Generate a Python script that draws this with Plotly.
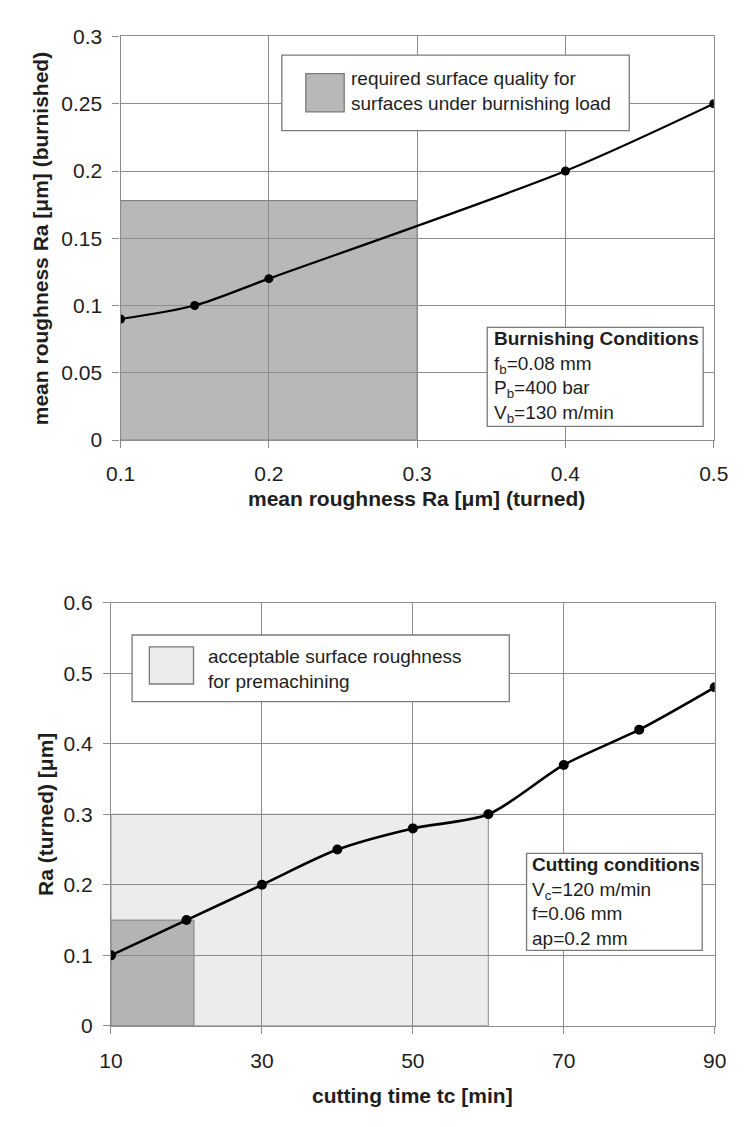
import plotly.graph_objects as go

# ---- data -------------------------------------------------------------
# upper chart: burnished roughness vs. turned roughness
turned_ra = [0.10, 0.15, 0.20, 0.40, 0.50]
burnished_ra = [0.09, 0.10, 0.12, 0.20, 0.25]
burn_xticks = [0.1, 0.2, 0.3, 0.4, 0.5]
burn_xticktext = ["0.1", "0.2", "0.3", "0.4", "0.5"]
burn_yticks = [0, 0.05, 0.1, 0.15, 0.2, 0.25, 0.3]
burn_yticktext = ["0", "0.05", "0.1", "0.15", "0.2", "0.25", "0.3"]
# required quality zone (turned Ra range, burnished Ra limit)
req_zone_x = [0.1, 0.3]
req_zone_y = [0, 0.178]

# lower chart: turned roughness vs. cutting time
cut_time = [10, 20, 30, 40, 50, 60, 70, 80, 90]
cut_ra = [0.10, 0.15, 0.20, 0.25, 0.28, 0.30, 0.37, 0.42, 0.48]
cut_xticks = [10, 30, 50, 70, 90]
cut_xticktext = ["10", "30", "50", "70", "90"]
cut_yticks = [0, 0.1, 0.2, 0.3, 0.4, 0.5, 0.6]
cut_yticktext = ["0", "0.1", "0.2", "0.3", "0.4", "0.5", "0.6"]
# acceptable premachining zone and the tighter zone inside it
accept_zone_x = [10, 60]
accept_zone_y = [0, 0.3]
tight_zone_x = [10, 21]
tight_zone_y = [0, 0.15]

# ---- page geometry (pixels) --------------------------------------------
W, H = 746, 1127


def px(x):
    return x / W


def py(y):
    return 1 - y / H


FONT = "Liberation Sans, Arial, sans-serif"
GRID = "#8c8c8c"
TXT = "#1e1e1e"
TICK_SIZE = 21
TITLE_SIZE = 21
NOTE_SIZE = 19

fig = go.Figure()

fig.add_trace(go.Scatter(
    x=turned_ra, y=burnished_ra, mode="lines+markers",
    line=dict(color="black", width=2.2, shape="spline", smoothing=0.8),
    marker=dict(color="black", size=9),
    xaxis="x", yaxis="y", showlegend=False, hoverinfo="skip",
))
fig.add_trace(go.Scatter(
    x=cut_time, y=cut_ra, mode="lines+markers",
    line=dict(color="black", width=2.6, shape="spline", smoothing=0.8),
    marker=dict(color="black", size=10),
    xaxis="x2", yaxis="y2", showlegend=False, hoverinfo="skip",
))

axis_common = dict(
    showgrid=True, gridcolor=GRID, gridwidth=1.3,
    showline=True, linecolor=GRID, linewidth=1.3, mirror=True,
    ticks="outside", ticklen=7, tickcolor=GRID, tickwidth=1.3,
    zeroline=False,
    tickfont=dict(family=FONT, size=TICK_SIZE, color=TXT),
)

fig.update_layout(
    width=W, height=H,
    margin=dict(l=0, r=0, t=0, b=0),
    paper_bgcolor="white", plot_bgcolor="white",
    font=dict(family=FONT, color=TXT),
    xaxis=dict(axis_common, domain=[px(110), px(728)], range=[0.1, 0.5],
               tickvals=burn_xticks, ticktext=burn_xticktext,
               anchor="y", ticklabelstandoff=8),
    yaxis=dict(axis_common, domain=[py(437), py(25)], range=[0, 0.3],
               tickvals=burn_yticks, ticktext=burn_yticktext,
               anchor="x", ticklabelstandoff=6),
    xaxis2=dict(axis_common, domain=[px(100), px(729)], range=[10, 90],
                tickvals=cut_xticks, ticktext=cut_xticktext,
                anchor="y2", ticklabelstandoff=9),
    yaxis2=dict(axis_common, domain=[py(1035), py(603)], range=[0, 0.6],
                tickvals=cut_yticks, ticktext=cut_yticktext,
                anchor="x2", ticklabelstandoff=6),
)

# shaded zones (below the grid, as in the original plots)
fig.add_shape(type="rect", xref="x", yref="y",
              x0=req_zone_x[0], x1=req_zone_x[1], y0=req_zone_y[0], y1=req_zone_y[1],
              fillcolor="#b8b8b8", line=dict(color="#777777", width=1), layer="below")
fig.add_shape(type="rect", xref="x2", yref="y2",
              x0=accept_zone_x[0], x1=accept_zone_x[1], y0=accept_zone_y[0], y1=accept_zone_y[1],
              fillcolor="#ececec", line=dict(color="#8a8a8a", width=1), layer="below")
fig.add_shape(type="rect", xref="x2", yref="y2",
              x0=tight_zone_x[0], x1=tight_zone_x[1], y0=tight_zone_y[0], y1=tight_zone_y[1],
              fillcolor="#b4b4b4", line=dict(color="#808080", width=1), layer="below")


def box(x0, y0, x1, y1):
    fig.add_shape(type="rect", xref="paper", yref="paper",
                  x0=px(x0), x1=px(x1), y0=py(y1), y1=py(y0),
                  fillcolor="white", line=dict(color="#7a7a7a", width=1.3),
                  layer="above")


def swatch(x0, y0, x1, y1, color):
    fig.add_shape(type="rect", xref="paper", yref="paper",
                  x0=px(x0), x1=px(x1), y0=py(y1), y1=py(y0),
                  fillcolor=color, line=dict(color="#7a7a7a", width=1.3),
                  layer="above")


def note(x, y, text, size=NOTE_SIZE, anchor="left", yanchor="middle"):
    fig.add_annotation(xref="paper", yref="paper", x=px(x), y=py(y),
                       text=text, showarrow=False, xanchor=anchor,
                       yanchor=yanchor, align="left",
                       font=dict(family=FONT, size=size, color=TXT))


# legend of the upper chart
box(278, 44, 640, 121)
swatch(303, 63, 343, 102, "#b8b8b8")
note(348, 81, "required surface quality for<br>surfaces under burnishing load")

# burnishing conditions
box(492, 322, 717, 423)
note(497, 373,
     "<b>Burnishing Conditions</b><br>f<sub>b</sub>=0.08 mm<br>"
     "P<sub>b</sub>=400 bar<br>V<sub>b</sub>=130 m/min")

# legend of the lower chart
box(122, 636, 515, 704)
swatch(140, 648, 186, 686, "#ececec")
note(199, 671, "acceptable surface roughness<br>for premachining")

# cutting conditions
box(533, 859, 716, 958)
note(537, 908,
     "<b>Cutting conditions</b><br>V<sub>c</sub>=120 m/min<br>"
     "f=0.06 mm<br>ap=0.2 mm")

# axis titles
note(418, 497, "<b>mean roughness Ra [μm] (turned)</b>", size=TITLE_SIZE, anchor="center")
note(414, 1106, "<b>cutting time tc [min]</b>", size=TITLE_SIZE, anchor="center")
fig.add_annotation(xref="paper", yref="paper", x=px(26), y=py(231),
                   text="<b>mean roughness Ra [μm] (burnished)</b>", showarrow=False,
                   textangle=-90, xanchor="center", yanchor="middle",
                   font=dict(family=FONT, size=TITLE_SIZE, color=TXT))
fig.add_annotation(xref="paper", yref="paper", x=px(32), y=py(819),
                   text="<b>Ra (turned) [μm]</b>", showarrow=False,
                   textangle=-90, xanchor="center", yanchor="middle",
                   font=dict(family=FONT, size=TITLE_SIZE, color=TXT))

fig.write_html("out.html")
